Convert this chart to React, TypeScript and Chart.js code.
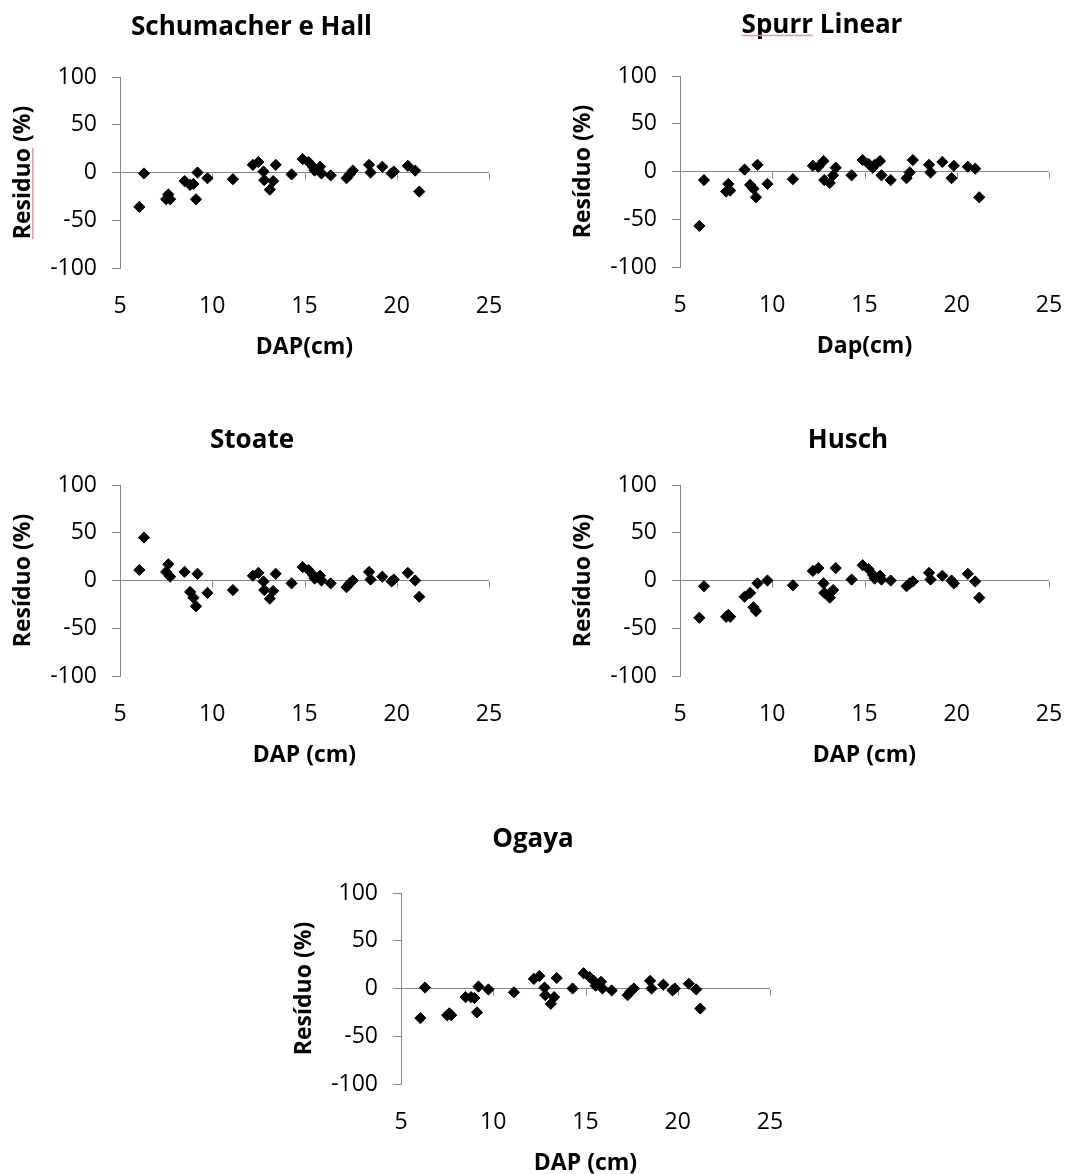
import React, { useEffect, useRef } from 'react';
import { Chart, registerables } from 'chart.js';

Chart.register(...registerables);

// ---- Data ----
const dap = [
  6.05, 6.3, 7.5, 7.62, 7.72, 8.5, 8.8, 8.98, 9.12, 9.2,
  9.74, 11.12, 12.2, 12.5, 12.78, 12.82, 13.12, 13.3, 13.44, 14.3,
  14.9, 15.22, 15.45, 15.55, 15.84, 15.92, 16.42, 17.28, 17.45, 17.62,
  18.5, 18.58, 19.22, 19.72, 19.84, 20.6, 21.0, 21.22,
];

const residSchumacherHall = [
  -36, -1, -28, -23, -28, -9, -13, -12, -28, 0,
  -6, -7, 8, 11, 1, -8, -18, -9, 8, -2,
  14, 11, 6, 2, 6, -1, -3, -6, -2, 2,
  8, 0, 6, -1, 1, 7, 2, -20,
];

const residSpurrLinear = [
  -57, -9, -21, -13, -20, 2, -14, -18, -27, 7,
  -13, -8, 6, 5, 11, -9, -12, -4, 4, -4,
  12, 8, 4, 7, 11, -4, -9, -7, -1, 12,
  7, -1, 10, -7, 6, 5, 3, -27,
];

const residStoate = [
  11, 45, 9, 17, 4, 9, -12, -18, -27, 7,
  -13, -10, 5, 8, -1, -10, -19, -11, 7, -3,
  14, 11, 6, 2, 5, 0, -3, -7, -3, 0,
  9, 1, 4, -1, 1, 8, 0, -17,
];

const residHusch = [
  -39, -6, -38, -36, -38, -17, -13, -28, -32, -3,
  0, -5, 10, 13, -3, -13, -18, -10, 13, 1,
  16, 12, 6, 2, 5, 1, 0, -6, -3, -1,
  8, 1, 5, 0, -3, 7, -1, -18,
];

const residOgaya = [
  -31, 1, -28, -26, -28, -9, -9, -10, -25, 2,
  -1, -4, 10, 13, 1, -7, -16, -9, 11, 0,
  16, 12, 8, 3, 7, 0, -2, -7, -3, 0,
  8, 0, 4, -2, 0, 5, -1, -21,
];

const xTickValues = [5, 10, 15, 20, 25];
const yTickValues = [-100, -50, 0, 50, 100];

// ---- Styling ----
const FONT = "'Open Sans', 'Liberation Sans', sans-serif";
const AXIS_GRAY = '#878787';
const SPELL_RED = '#e39c9c';

const CANVAS_W = 509;
const CANVAS_H = 368;
const AXIS_W = 120;
const PAD_TOP = 77;
const PAD_RIGHT = 20;
const X_AXIS_H = 100;

type PanelSpec = {
  title: string;
  yTitle: string;
  xTitle: string;
  values: number[];
  areaLeft: number;
  areaTop: number;
  titleCenter: number;
  titleBaseline: number;
  titleUnderline?: string;
  yTitleUnderline?: string;
};

const panels: PanelSpec[] = [
  {
    title: 'Schumacher e Hall', yTitle: 'Residuo (%)', xTitle: 'DAP(cm)',
    values: residSchumacherHall, areaLeft: 120, areaTop: 77,
    titleCenter: 251.5, titleBaseline: 35, yTitleUnderline: 'Residuo',
  },
  {
    title: 'Spurr Linear', yTitle: 'Resíduo (%)', xTitle: 'Dap(cm)',
    values: residSpurrLinear, areaLeft: 680, areaTop: 76,
    titleCenter: 822, titleBaseline: 33, titleUnderline: 'Spurr',
  },
  {
    title: 'Stoate', yTitle: 'Resíduo (%)', xTitle: 'DAP (cm)',
    values: residStoate, areaLeft: 120, areaTop: 485,
    titleCenter: 252, titleBaseline: 448,
  },
  {
    title: 'Husch', yTitle: 'Resíduo (%)', xTitle: 'DAP (cm)',
    values: residHusch, areaLeft: 680, areaTop: 485,
    titleCenter: 848, titleBaseline: 448,
  },
  {
    title: 'Ogaya', yTitle: 'Resíduo (%)', xTitle: 'DAP (cm)',
    values: residOgaya, areaLeft: 401, areaTop: 893,
    titleCenter: 533, titleBaseline: 847,
  },
];

const decorPlugin = {
  id: 'panelDecor',
  beforeDatasetsDraw(chart: any) {
    const { ctx } = chart;
    const xs = chart.scales.x;
    const ys = chart.scales.y;
    const y0 = Math.round(ys.getPixelForValue(0)) + 0.5;
    ctx.save();
    ctx.strokeStyle = AXIS_GRAY;
    ctx.lineWidth = 1;
    ctx.beginPath();
    for (const v of xTickValues) {
      if (v === xs.min) continue;
      const px = Math.round(xs.getPixelForValue(v)) + 0.5;
      ctx.moveTo(px, y0);
      ctx.lineTo(px, y0 + 6);
    }
    ctx.stroke();
    ctx.restore();
  },
  afterDraw(chart: any, _args: any, opts: any) {
    const { ctx } = chart;
    ctx.save();
    // Title
    ctx.font = `bold 26px ${FONT}`;
    ctx.fillStyle = '#000';
    ctx.textAlign = 'center';
    ctx.textBaseline = 'alphabetic';
    ctx.fillText(opts.text, opts.x, opts.y);
    if (opts.titleUnderline) {
      const w = ctx.measureText(opts.text).width;
      const sw = ctx.measureText(opts.titleUnderline).width;
      const x0 = opts.x - w / 2;
      ctx.strokeStyle = SPELL_RED;
      ctx.lineWidth = 1.5;
      ctx.beginPath();
      ctx.moveTo(x0, opts.y + 2.5);
      ctx.lineTo(x0 + sw, opts.y + 2.5);
      ctx.stroke();
    }
    // Spell-check underline under a word of the y-axis title
    if (opts.yTitleUnderline) {
      const ys = chart.scales.y;
      ctx.font = `bold 23px ${FONT}`;
      const w = ctx.measureText(opts.yTitle).width;
      const sw = ctx.measureText(opts.yTitleUnderline).width;
      const cx = ys.left + 23 * 1.2 / 2 + 10;
      const cy = (ys.top + ys.bottom) / 2;
      const start = cy + w / 2;
      ctx.strokeStyle = SPELL_RED;
      ctx.lineWidth = 1.5;
      ctx.beginPath();
      ctx.moveTo(cx + 9, start);
      ctx.lineTo(cx + 9, start - sw);
      ctx.stroke();
    }
    ctx.restore();
  },
};

function Panel({ spec }: { spec: PanelSpec }) {
  const ref = useRef<HTMLCanvasElement>(null);
  const canvasLeft = spec.areaLeft - AXIS_W;
  const canvasTop = spec.areaTop - PAD_TOP;

  useEffect(() => {
    if (!ref.current) return;
    const chart = new Chart(ref.current, {
      type: 'scatter',
      data: {
        datasets: [
          {
            data: dap.map((x, i) => ({ x, y: spec.values[i] })),
            pointStyle: 'rectRot',
            pointRadius: 5.6,
            pointHoverRadius: 5.6,
            backgroundColor: '#000',
            borderColor: '#000',
            borderWidth: 1,
            showLine: false,
          },
        ],
      },
      options: {
        responsive: false,
        animation: false,
        devicePixelRatio: 1,
        layout: { padding: { top: PAD_TOP, right: PAD_RIGHT, bottom: 0, left: 0 } },
        plugins: {
          legend: { display: false },
          tooltip: { enabled: false },
          title: { display: false },
          panelDecor: {
            text: spec.title,
            x: spec.titleCenter - canvasLeft,
            y: spec.titleBaseline - canvasTop,
            titleUnderline: spec.titleUnderline,
            yTitle: spec.yTitle,
            yTitleUnderline: spec.yTitleUnderline,
          },
        } as any,
        scales: {
          x: {
            type: 'linear',
            min: xTickValues[0],
            max: xTickValues[xTickValues.length - 1],
            afterBuildTicks: (s: any) => { s.ticks = xTickValues.map((v) => ({ value: v })); },
            afterFit: (s: any) => {
              s.height = X_AXIS_H;
              s.paddingLeft = 0;
              s.paddingRight = 0;
            },
            grid: { display: false, drawTicks: false },
            border: { display: false },
            ticks: {
              color: '#000',
              font: { family: FONT, size: 23 },
              padding: 25,
              maxRotation: 0,
              autoSkip: false,
            },
            title: {
              display: true,
              text: spec.xTitle,
              color: '#000',
              font: { family: FONT, size: 23, weight: 'bold' },
              padding: { top: 0, bottom: 7 },
            },
          },
          y: {
            type: 'linear',
            min: yTickValues[0],
            max: yTickValues[yTickValues.length - 1],
            afterBuildTicks: (s: any) => { s.ticks = yTickValues.map((v) => ({ value: v })); },
            afterFit: (s: any) => {
              s.width = AXIS_W;
              s.paddingTop = 0;
              s.paddingBottom = 0;
            },
            border: { display: true, color: AXIS_GRAY, width: 1 },
            grid: {
              color: (c: any) => (c.tick && c.tick.value === 0 ? AXIS_GRAY : 'rgba(0,0,0,0)'),
              tickColor: AXIS_GRAY,
              tickLength: 8,
              drawTicks: true,
              lineWidth: 1,
            },
            ticks: {
              color: '#000',
              font: { family: FONT, size: 23 },
              padding: 15,
            },
            title: {
              display: true,
              text: spec.yTitle,
              color: '#000',
              font: { family: FONT, size: 23, weight: 'bold' },
              padding: { top: 10, bottom: 0 },
            },
          },
        },
      } as any,
      plugins: [decorPlugin],
    });
    return () => chart.destroy();
  }, [spec]);

  return (
    <canvas
      ref={ref}
      width={CANVAS_W}
      height={CANVAS_H}
      style={{
        position: 'absolute',
        left: canvasLeft,
        top: canvasTop,
        width: CANVAS_W,
        height: CANVAS_H,
      }}
    />
  );
}

export default function App() {
  return (
    <div
      style={{
        position: 'absolute',
        left: 0,
        top: 0,
        width: 1069,
        height: 1174,
        overflow: 'hidden',
        background: '#fff',
      }}
    >
      {panels.map((p) => (
        <Panel key={p.title} spec={p} />
      ))}
    </div>
  );
}
